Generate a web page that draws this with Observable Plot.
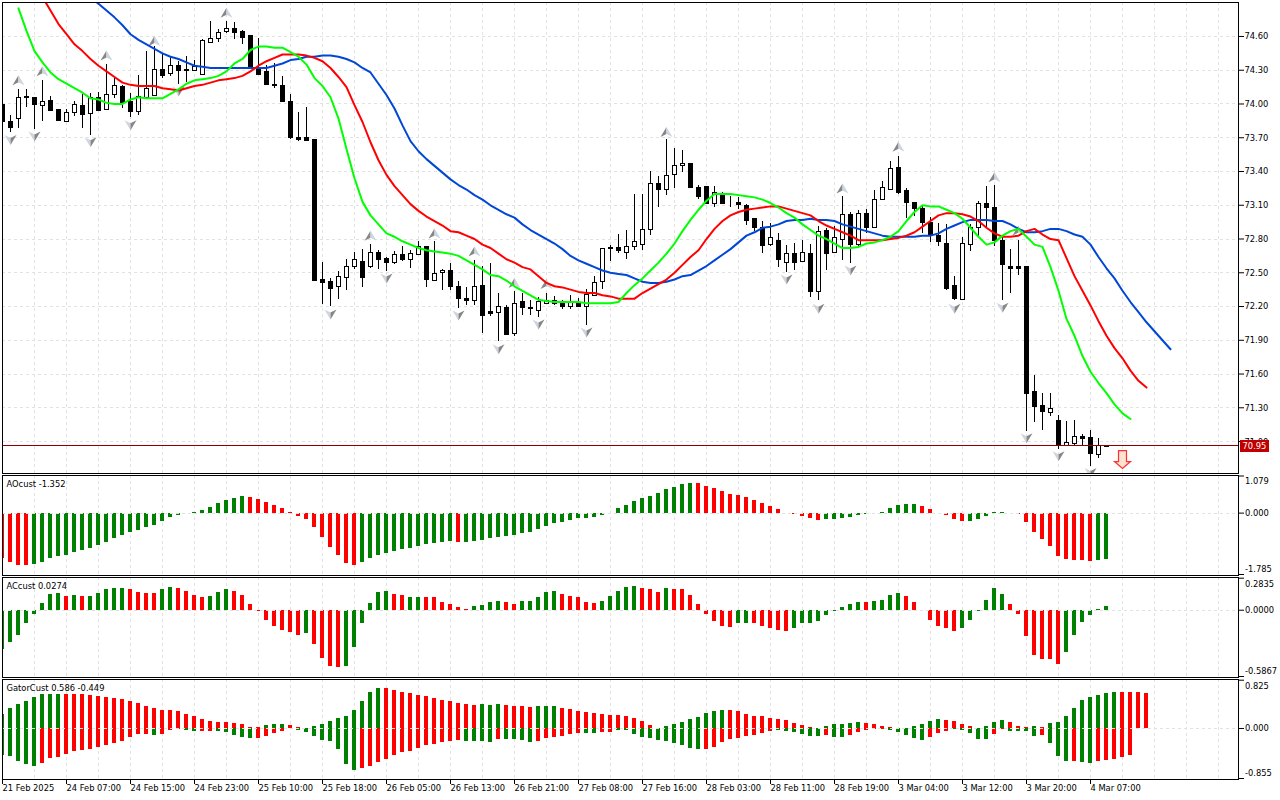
<!DOCTYPE html>
<html>
<head>
<meta charset="utf-8">
<script src="https://cdn.jsdelivr.net/npm/d3@7"></script>
<script src="https://cdn.jsdelivr.net/npm/@observablehq/plot@0.6"></script>
<style>
html,body{margin:0;padding:0;background:#fff;overflow:hidden}
#chart{position:relative;width:1280px;height:800px;background:#fff}
svg{display:block}
</style>
</head>
<body>
<div id="chart"></div>
<script>
const opens=[73.99,73.84,73.87,74.05,74.05,73.98,74.03,73.95,73.84,73.92,
73.98,73.91,74.05,73.95,74.08,74.15,74.02,73.93,74.05,74.07,
74.30,74.27,74.34,74.30,74.29,74.26,74.54,74.58,74.64,74.67,
74.64,74.60,74.31,74.28,74.17,74.16,74.02,73.70,73.70,73.68,
72.44,72.42,72.37,72.45,72.55,72.60,72.55,72.68,72.62,72.59,
72.66,72.61,72.66,72.73,72.43,72.50,72.52,72.37,72.27,72.25,
72.38,72.15,72.14,72.19,71.96,72.24,72.19,72.16,72.22,72.25,
72.23,72.20,72.23,72.20,72.29,72.42,72.71,72.72,72.68,72.73,
72.75,72.88,73.29,73.24,73.37,73.45,73.47,73.25,73.26,73.11,
73.19,73.12,73.12,73.09,72.98,72.90,72.75,72.78,72.59,72.67,
72.60,72.67,72.33,72.87,72.68,72.79,73.01,72.75,73.02,72.90,
73.15,73.24,73.43,73.23,73.12,73.07,72.94,72.83,72.76,72.38,
72.26,72.75,72.90,73.11,73.08,72.78,72.55,72.55,72.55,71.44,
71.32,71.25,71.18,70.96,70.98,71.04,71.03,70.88,70.95];
const highs=[73.99,73.90,74.13,74.13,74.06,74.21,74.07,73.95,73.95,74.02,
74.08,74.09,74.10,74.35,74.24,74.16,74.09,74.25,74.47,74.51,
74.44,74.42,74.38,74.42,74.39,74.57,74.73,74.66,74.73,74.72,
74.65,74.60,74.58,74.34,74.36,74.24,74.08,73.92,73.97,73.68,
72.59,72.45,72.51,72.62,72.68,72.71,72.75,72.70,72.64,72.69,
72.73,72.70,72.78,72.73,72.78,72.53,72.58,72.42,72.37,72.61,
72.56,72.58,72.32,72.21,72.33,72.32,72.25,72.28,72.32,72.29,
72.25,72.30,72.27,72.35,72.47,72.71,72.74,72.84,72.88,73.20,
73.20,73.40,73.36,73.68,73.60,73.59,73.47,73.28,73.26,73.27,
73.21,73.18,73.17,73.11,72.98,72.96,72.94,72.85,72.74,72.76,
72.79,72.75,72.91,72.89,72.91,73.18,73.04,73.05,73.06,73.23,
73.31,73.49,73.53,73.25,73.12,73.10,72.99,72.94,72.93,72.47,
72.81,72.93,73.13,73.27,73.28,72.81,72.71,72.79,72.55,71.59,
71.43,71.43,71.23,71.18,71.19,71.06,71.10,71.03,70.96];
const lows=[73.84,73.75,73.78,73.97,73.77,73.84,73.94,73.84,73.84,73.89,
73.78,73.72,73.94,73.94,74.05,73.96,73.88,73.90,74.04,74.07,
74.23,74.24,74.17,74.19,74.29,74.25,74.54,74.55,74.63,74.57,
74.53,74.31,74.26,74.17,74.14,74.01,73.68,73.67,73.67,72.43,
72.22,72.20,72.26,72.34,72.53,72.37,72.54,72.53,72.51,72.57,
72.60,72.54,72.65,72.37,72.42,72.34,72.34,72.18,72.21,72.21,
71.96,72.11,71.89,71.94,71.93,72.12,72.12,72.10,72.22,72.21,
72.17,72.17,72.19,72.03,72.29,72.35,72.60,72.67,72.62,72.70,
72.70,72.83,73.08,73.19,73.25,73.39,73.25,73.15,73.11,73.08,
73.11,73.08,73.06,72.92,72.87,72.67,72.73,72.55,72.50,72.52,
72.59,72.28,72.25,72.52,72.67,72.61,72.58,72.73,72.85,72.89,
73.14,73.23,73.20,72.98,73.00,72.85,72.77,72.73,72.34,72.25,
72.26,72.69,72.81,72.89,72.73,72.25,72.32,72.48,71.09,71.17,
71.10,71.22,70.93,70.96,70.96,70.96,70.78,70.85,70.95];
const closes=[73.84,73.79,74.05,74.06,73.99,74.02,73.94,73.85,73.92,73.99,
73.90,74.05,73.94,74.08,74.16,74.01,73.93,74.06,74.13,74.30,
74.25,74.34,74.29,74.29,74.33,74.56,74.58,74.63,74.67,74.63,
74.59,74.32,74.26,74.17,74.16,74.02,73.70,73.68,73.67,72.43,
72.41,72.36,72.46,72.55,72.61,72.45,72.68,72.61,72.59,72.66,
72.61,72.67,72.73,72.44,72.49,72.52,72.37,72.27,72.25,72.37,
72.12,72.13,72.20,71.95,72.22,72.19,72.18,72.24,72.25,72.22,
72.20,72.24,72.20,72.30,72.41,72.71,72.72,72.69,72.73,72.77,
72.88,73.29,73.24,73.36,73.45,73.47,73.25,73.17,73.11,73.21,
73.11,73.12,73.10,72.96,72.90,72.74,72.81,72.61,72.67,72.59,
72.68,72.33,72.86,72.67,72.81,73.01,72.75,73.02,72.90,73.15,
73.25,73.42,73.21,73.12,73.07,72.94,72.84,72.77,72.36,72.27,
72.76,72.90,73.11,73.08,72.78,72.57,72.53,72.53,71.42,71.31,
71.26,71.29,70.96,70.99,71.04,71.02,70.89,70.96,70.96];

const greenStart=2;
const greenLine=[74.85,74.65,74.47,74.37,74.28,74.22,74.18,74.14,74.10,74.05,74.04,74.01,74.00,74.00,74.04,74.06,74.05,74.05,74.05,74.09,
74.13,74.18,74.21,74.22,74.23,74.25,74.29,74.36,74.40,74.48,74.51,74.51,74.50,74.50,74.46,74.42,74.35,74.23,74.16,74.06,
73.87,73.60,73.34,73.13,73.01,72.93,72.85,72.82,72.78,72.75,72.72,72.70,72.69,72.68,72.67,72.65,72.61,72.57,72.53,72.48,
72.47,72.43,72.38,72.34,72.30,72.26,72.25,72.24,72.24,72.24,72.24,72.23,72.23,72.23,72.23,72.24,72.32,72.39,72.45,72.52,
72.59,72.67,72.76,72.87,72.97,73.06,73.14,73.20,73.20,73.20,73.19,73.18,73.17,73.15,73.12,73.08,73.03,72.99,72.93,72.88,
72.83,72.80,72.76,72.72,72.72,72.73,72.76,72.77,72.79,72.82,72.87,72.96,73.04,73.10,73.09,73.09,73.06,73.03,72.98,72.90,
72.82,72.75,72.77,72.83,72.87,72.89,72.82,72.75,72.73,72.55,72.34,72.09,71.94,71.76,71.62,71.52,71.43,71.33,71.25,71.20];
const redStart=5;
const redLine=[74.95,74.83,74.71,74.62,74.53,74.47,74.40,74.34,74.29,74.24,74.19,74.17,74.16,74.16,74.16,74.14,74.13,74.12,74.14,74.16,
74.17,74.19,74.21,74.22,74.23,74.25,74.29,74.34,74.38,74.41,74.44,74.44,74.44,74.43,74.41,74.38,74.32,74.24,74.15,73.99,
73.84,73.66,73.50,73.37,73.27,73.19,73.11,73.05,73.00,72.96,72.92,72.87,72.86,72.83,72.80,72.75,72.72,72.67,72.62,72.59,
72.55,72.53,72.47,72.41,72.38,72.37,72.35,72.33,72.32,72.32,72.30,72.29,72.27,72.27,72.27,72.32,72.36,72.40,72.44,72.50,
72.57,72.64,72.70,72.80,72.89,72.96,73.01,73.04,73.06,73.07,73.08,73.09,73.09,73.07,73.05,73.03,73.01,72.96,72.92,72.89,
72.86,72.83,72.79,72.79,72.79,72.79,72.80,72.81,72.83,72.86,72.91,72.96,73.01,73.03,73.03,73.02,73.00,72.96,72.90,72.85,
72.82,72.82,72.83,72.87,72.89,72.84,72.80,72.79,72.63,72.47,72.34,72.21,72.07,71.94,71.83,71.74,71.63,71.54,71.48];
const blueStart=11;
const blueLine=[74.95,74.89,74.83,74.77,74.70,74.62,74.57,74.53,74.49,74.45,74.42,74.40,74.37,74.34,74.33,74.32,74.32,74.32,74.32,74.32,
74.32,74.32,74.32,74.34,74.36,74.39,74.40,74.42,74.42,74.43,74.43,74.42,74.40,74.37,74.32,74.28,74.18,74.08,73.96,73.81,
73.67,73.58,73.51,73.45,73.39,73.33,73.28,73.24,73.19,73.15,73.10,73.06,73.02,72.99,72.93,72.88,72.84,72.80,72.76,72.71,
72.65,72.61,72.58,72.55,72.52,72.50,72.49,72.48,72.45,72.42,72.41,72.41,72.42,72.44,72.47,72.48,72.52,72.56,72.61,72.66,
72.71,72.77,72.83,72.86,72.90,72.91,72.93,72.96,72.97,72.97,72.98,72.97,72.97,72.96,72.93,72.91,72.89,72.87,72.85,72.83,
72.82,72.82,72.82,72.82,72.83,72.83,72.85,72.89,72.92,72.95,72.97,72.97,72.97,72.96,72.96,72.93,72.89,72.86,72.86,72.87,
72.89,72.89,72.87,72.84,72.82,72.75,72.64,72.54,72.45,72.34,72.24,72.15,72.06,71.98,71.90,71.82];

const fractalUpIndex=[2,5,13,19,28,46,54,59,64,68,83,105,112,124,127];
const fractalUpPrice=[74.21,74.29,74.43,74.56,74.81,72.83,72.85,72.69,72.41,72.40,73.75,73.25,73.62,73.35,72.875];
const fractalDownIndex=[1,4,11,16,22,41,48,57,62,67,73,98,102,106,119,125,128,132,136];
const fractalDownPrice=[73.68,73.71,73.66,73.81,74.11,72.13,72.45,72.12,71.82,72.04,71.97,72.44,72.18,72.52,72.18,72.19,71.03,70.87,70.72];

const aoValues=[-1.33,-1.44,-1.53,-1.53,-1.50,-1.44,-1.33,-1.27,-1.24,-1.15,-1.09,-1.04,-0.95,-0.86,-0.75,-0.66,-0.57,-0.51,-0.43,-0.37,
-0.25,-0.14,-0.08,-0.02,0.02,0.07,0.16,0.27,0.36,0.42,0.47,0.45,0.39,0.30,0.21,0.13,0.01,-0.11,-0.19,-0.43,
-0.72,-1.01,-1.24,-1.47,-1.53,-1.44,-1.33,-1.24,-1.18,-1.13,-1.07,-1.04,-0.98,-0.92,-0.89,-0.86,-0.83,-0.86,-0.86,-0.83,
-0.80,-0.75,-0.72,-0.69,-0.66,-0.60,-0.57,-0.48,-0.40,-0.31,-0.28,-0.22,-0.16,-0.16,-0.14,-0.08,-0.01,0.13,0.21,0.33,
0.42,0.47,0.56,0.68,0.74,0.82,0.85,0.85,0.77,0.71,0.62,0.53,0.50,0.45,0.36,0.27,0.18,0.10,-0.01,-0.04,
-0.11,-0.16,-0.22,-0.19,-0.19,-0.16,-0.14,-0.08,-0.04,-0.01,0.03,0.13,0.21,0.24,0.24,0.18,0.10,-0.02,-0.08,-0.19,
-0.25,-0.25,-0.19,-0.11,0.03,0.03,-0.02,-0.05,-0.28,-0.57,-0.78,-0.98,-1.27,-1.36,-1.39,-1.39,-1.41,-1.39,-1.36];
const aoColorRuns=[["R",4],["G",27],["R",14],["G",12],["R",1],["G",29],["R",16],["G",12],["R",6],["G",5],["R",11],["G",2]];

const acValues=[-0.345,-0.29,-0.22,-0.12,-0.035,0.06,0.14,0.15,0.12,0.13,0.12,0.12,0.15,0.18,0.19,0.19,0.18,0.16,0.15,0.15,
0.18,0.20,0.19,0.17,0.13,0.11,0.12,0.16,0.18,0.17,0.13,0.05,-0.015,-0.09,-0.14,-0.18,-0.20,-0.22,-0.21,-0.30,
-0.43,-0.50,-0.51,-0.50,-0.33,-0.115,0.06,0.16,0.17,0.14,0.13,0.11,0.11,0.11,0.11,0.07,0.05,0.02,0.01,0.03,
0.04,0.07,0.08,0.07,0.05,0.08,0.08,0.115,0.16,0.17,0.14,0.12,0.115,0.07,0.06,0.08,0.12,0.17,0.20,0.21,
0.19,0.18,0.16,0.19,0.18,0.18,0.13,0.05,-0.035,-0.10,-0.14,-0.15,-0.12,-0.115,-0.12,-0.14,-0.16,-0.18,-0.19,-0.16,
-0.12,-0.12,-0.10,-0.05,-0.015,0.02,0.05,0.07,0.07,0.08,0.09,0.13,0.15,0.12,0.07,-0.005,-0.09,-0.14,-0.16,-0.19,
-0.16,-0.09,-0.015,0.09,0.19,0.14,0.05,-0.035,-0.23,-0.40,-0.44,-0.44,-0.48,-0.37,-0.22,-0.11,-0.05,0.005,0.035];
const acColorRuns=[["G",8],["R",1],["G",1],["R",1],["G",5],["R",4],["G",2],["R",4],["G",3],["R",9],["G",1],["R",4],["G",6],["R",2],["G",2],["R",6],["G",4],["R",2],["G",5],["R",5],["G",5],["R",3],["G",1],["R",8],["G",2],["R",5],["G",9],["R",1],["G",4],["R",7],["G",6],["R",7],["G",6]];

const gatorUpper=[0.24,0.34,0.41,0.46,0.53,0.58,0.58,0.58,0.58,0.58,0.58,0.56,0.55,0.53,0.51,0.50,0.46,0.43,0.38,0.34,
0.31,0.31,0.29,0.24,0.21,0.15,0.12,0.10,0.10,0.085,0.07,0.02,0.02,0.05,0.07,0.07,0.05,0.02,0.005,0.035,
0.07,0.12,0.17,0.21,0.31,0.46,0.62,0.68,0.68,0.65,0.62,0.60,0.56,0.55,0.51,0.48,0.46,0.43,0.41,0.39,
0.41,0.39,0.41,0.39,0.38,0.38,0.36,0.38,0.38,0.38,0.34,0.32,0.29,0.27,0.26,0.24,0.22,0.22,0.21,0.17,
0.12,0.05,0.005,0.035,0.07,0.10,0.15,0.19,0.26,0.29,0.31,0.31,0.29,0.24,0.21,0.21,0.17,0.15,0.14,0.085,
0.05,0.02,0.005,0.035,0.07,0.07,0.085,0.10,0.085,0.07,0.035,0.02,0.005,0.005,0.035,0.07,0.12,0.15,0.14,0.12,
0.07,0.035,0.005,0.035,0.10,0.14,0.10,0.035,0.02,0.035,0.02,0.085,0.10,0.21,0.34,0.48,0.53,0.56,0.60,0.62,
0.62,0.62,0.62,0.60];
const gatorUpperColorRuns=[["G",8],["R",25],["G",3],["R",2],["G",10],["R",12],["G",3],["R",4],["G",3],["R",13],["G",8],["R",11],["G",6],["R",4],["G",6],["R",4],["G",4],["R",3],["G",1],["R",1],["G",9],["R",4]];
const gatorLower=[-0.46,-0.48,-0.56,-0.62,-0.65,-0.60,-0.51,-0.50,-0.44,-0.39,-0.38,-0.36,-0.32,-0.29,-0.26,-0.22,-0.15,-0.10,-0.10,-0.12,
-0.10,-0.03,-0.01,-0.03,-0.05,-0.05,-0.05,-0.05,-0.07,-0.12,-0.15,-0.17,-0.17,-0.14,-0.085,-0.05,-0.005,-0.03,-0.07,-0.14,
-0.21,-0.22,-0.36,-0.62,-0.72,-0.68,-0.65,-0.58,-0.53,-0.46,-0.41,-0.39,-0.34,-0.29,-0.27,-0.24,-0.22,-0.21,-0.22,-0.22,
-0.22,-0.24,-0.19,-0.19,-0.19,-0.21,-0.24,-0.22,-0.17,-0.15,-0.14,-0.10,-0.085,-0.085,-0.085,-0.07,-0.07,-0.035,-0.035,-0.10,
-0.15,-0.17,-0.21,-0.22,-0.26,-0.29,-0.34,-0.36,-0.36,-0.32,-0.24,-0.19,-0.17,-0.14,-0.12,-0.085,-0.05,-0.035,-0.05,-0.07,
-0.10,-0.14,-0.14,-0.12,-0.15,-0.15,-0.12,-0.07,-0.035,-0.02,-0.02,-0.035,-0.07,-0.12,-0.17,-0.21,-0.15,-0.085,-0.05,-0.02,
-0.035,-0.085,-0.19,-0.19,-0.10,-0.02,-0.05,-0.05,-0.05,-0.14,-0.12,-0.26,-0.48,-0.56,-0.56,-0.58,-0.60,-0.56,-0.55,-0.53,
-0.50,-0.46];
const gatorLowerColorRuns=[["G",5],["R",14],["G",1],["R",3],["G",2],["R",2],["G",5],["R",5],["G",8],["R",13],["G",4],["R",1],["G",4],["R",6],["G",2],["R",2],["G",11],["R",9],["G",6],["R",1],["G",2],["R",5],["G",5],["R",3],["G",5],["R",2],["G",4],["R",1],["G",3],["R",1],["G",2],["R",5]];

const timeLabels=["21 Feb 2025","24 Feb 07:00","24 Feb 15:00","24 Feb 23:00","25 Feb 10:00","25 Feb 18:00","26 Feb 05:00","26 Feb 13:00","26 Feb 21:00","27 Feb 08:00","27 Feb 16:00","28 Feb 03:00","28 Feb 11:00","28 Feb 19:00","3 Mar 04:00","3 Mar 12:00","3 Mar 20:00","4 Mar 07:00"];
const priceTicks=[74.60,74.30,74.00,73.70,73.40,73.10,72.80,72.50,72.20,71.90,71.60,71.30,71.00];
const lastPrice=70.95;
const signalIndex=[140];
const signalPrice=[70.84];

const FONT='"DejaVu Sans Condensed","DejaVu Sans",sans-serif';
const FS=9.25;
const GRID="#e2e2e2", DASH="3,3", BARG="#008000", BARR="#ff0000";
const xDomain=[0,154.5];
const gridX=d3.range(4,155,4);
const labelX=timeLabels.map((_,k)=>k*8);
const expand=runs=>runs.flatMap(([c,n])=>Array(n).fill(c));
const series=(vals,start)=>vals.map((v,k)=>({i:start+k,v}));
const coloured=(vals,runs)=>{const c=expand(runs);return vals.map((v,i)=>({i,v,c:c[i]==="G"?BARG:BARR}));};
const shape=pts=>({draw(ctx){pts.forEach(([x,y],k)=>k?ctx.lineTo(x,y):ctx.moveTo(x,y));ctx.closePath();}});

const candles=opens.map((o,i)=>({i,o,h:highs[i],l:lows[i],c:closes[i]}));
const ups=fractalUpIndex.map((i,k)=>({i,p:fractalUpPrice[k]}));
const downs=fractalDownIndex.map((i,k)=>({i,p:fractalDownPrice[k]}));
const FR_DARK="#868686", FR_LIGHT="#cdd5de";

const gridMarks=[
  Plot.ruleX(gridX,{stroke:GRID,strokeDasharray:DASH,shapeRendering:"crispEdges"})
];
const base=(top,height,marginTop,marginBottom,domain,range,marks)=>Plot.plot({
  width:1280,height,marginLeft:2,marginRight:42,marginTop,marginBottom,
  style:{position:"absolute",left:"0",top:top+"px",background:"transparent",fontFamily:FONT,fontSize:FS+"px",color:"#000",overflow:"visible"},
  x:{domain:xDomain,axis:null},
  y:{domain,range,axis:null},
  marks
});

const maLine=(vals,start,stroke)=>Plot.line(series(vals,start),{x:"i",y:"v",stroke,strokeWidth:2,clip:true,curve:"linear",shapeRendering:"geometricPrecision"});

const mainPlot=base(0,474,2,1,[70.716,74.902],[473,2],[
  ...gridMarks,
  Plot.ruleY(priceTicks,{stroke:GRID,strokeDasharray:DASH,shapeRendering:"crispEdges"}),
  Plot.ruleX(candles,{x:"i",y1:"l",y2:"h",stroke:"#000",strokeWidth:1,clip:true,shapeRendering:"crispEdges"}),
  Plot.rect(candles,{x1:d=>d.i-0.1875,x2:d=>d.i+0.3125,y1:"o",y2:"c",fill:d=>d.c>=d.o?"#fff":"#000",stroke:"#000",strokeWidth:1,clip:true,shapeRendering:"crispEdges"}),
  Plot.dot(ups,{x:"i",y:"p",r:6,fill:FR_DARK,stroke:null,clip:true,symbol:shape([[0,-5],[-6,5],[0,2]])}),
  Plot.dot(ups,{x:"i",y:"p",r:6,fill:FR_LIGHT,stroke:null,clip:true,symbol:shape([[0,-5],[6,5],[0,2]])}),
  Plot.dot(downs,{x:"i",y:"p",r:6,fill:FR_LIGHT,stroke:null,clip:true,symbol:shape([[0,5],[-6,-5],[0,-2]])}),
  Plot.dot(downs,{x:"i",y:"p",r:6,fill:FR_DARK,stroke:null,clip:true,symbol:shape([[0,5],[6,-5],[0,-2]])}),
  maLine(blueLine,blueStart,"#0047d6"),
  maLine(redLine,redStart,"#ff0000"),
  maLine(greenLine,greenStart,"#00ff00"),
  Plot.ruleY([lastPrice],{stroke:"#8b0000",strokeWidth:1,dy:-1.5,shapeRendering:"crispEdges"}),
  Plot.dot(signalIndex.map((i,k)=>({i,p:signalPrice[k]})),{x:"i",y:"p",r:8,fill:"#ffe2cf",stroke:"#ff3030",strokeWidth:1.2,
    symbol:shape([[-4,-9],[4,-9],[4,2],[8,2],[0,9],[-8,2],[-4,2]])}),
  Plot.axisY({anchor:"right",ticks:priceTicks,tickFormat:d=>d.toFixed(2),tickSize:5,tickPadding:1,label:null,textAnchor:"start"}),
  (index,{y},channels,dims)=>{
    const g=d3.create("svg:g");
    const py=y(lastPrice),x0=dims.width-dims.marginRight+2;
    g.append("rect").attr("x",x0).attr("y",Math.round(py)-7).attr("width",29).attr("height",12).attr("fill","#c00000");
    g.append("text").attr("x",x0+14.5).attr("y",Math.round(py)-1).attr("dy","0.32em").attr("text-anchor","middle").attr("fill","#fff").attr("font-size",FS+"px").text(lastPrice.toFixed(2));
    return g.node();
  },
  Plot.frame({stroke:"#000",strokeWidth:1,shapeRendering:"crispEdges"})
]);

/* Scale labels of a sub-window: the top and bottom ones sit just inside their ticks. */
const scaleLabel=(value,fmt,dy)=>Plot.text([value],{y:d=>d,text:fmt,frameAnchor:"right",textAnchor:"start",dx:6.5,dy,fill:"#000",fontSize:FS});

const subPanel=(top,height,marginBottom,domain,range,ticks,fmt,title,bars,axisExtra=[])=>base(top,height,1,marginBottom,domain,range,[
  ...gridMarks,
  ...bars.map(data=>Plot.rect(data,{x1:d=>d.i-0.25,x2:d=>d.i+0.25,y1:0,y2:"v",fill:"c",clip:true,shapeRendering:"crispEdges"})),
  Plot.ruleY([0],{stroke:GRID,strokeDasharray:DASH,shapeRendering:"crispEdges"}),
  Plot.axisY({anchor:"right",ticks,tickFormat:()=>"",tickSize:5,tickPadding:1,label:null}),
  scaleLabel(ticks[0],fmt,5.5),
  scaleLabel(ticks[1],fmt,0),
  scaleLabel(ticks[2],fmt,-5),
  Plot.text([title],{frameAnchor:"top-left",dx:4,dy:5,text:d=>d,fill:"#000",fontSize:FS}),
  ...axisExtra,
  Plot.frame({stroke:"#000",strokeWidth:1,shapeRendering:"crispEdges"})
]);

const aoPlot=subPanel(474,102,1,[-1.785,1.079],[100,1.5],[1.079,0,-1.785],d=>d.toFixed(3),"AOcust -1.352",[coloured(aoValues,aoColorRuns)]);
const acPlot=subPanel(576,102,1,[-0.5867,0.2835],[100,1.7],[0.2835,0,-0.5867],d=>d.toFixed(4),"ACcust 0.0274",[coloured(acValues,acColorRuns)]);
const gatorPlot=subPanel(678,122,21,[-0.855,0.825],[100,1.7],[0.825,0,-0.855],d=>d.toFixed(3),"GatorCust 0.586 -0.449",
  [coloured(gatorUpper,gatorUpperColorRuns),coloured(gatorLower,gatorLowerColorRuns)],
  [Plot.axisX({anchor:"bottom",ticks:labelX,tickFormat:d=>timeLabels[d/8],tickSize:5,tickPadding:0,label:null,textAnchor:"start"})]);

const root=document.getElementById("chart");
[mainPlot,aoPlot,acPlot,gatorPlot].forEach(p=>root.appendChild(p));
</script>
</body>
</html>
